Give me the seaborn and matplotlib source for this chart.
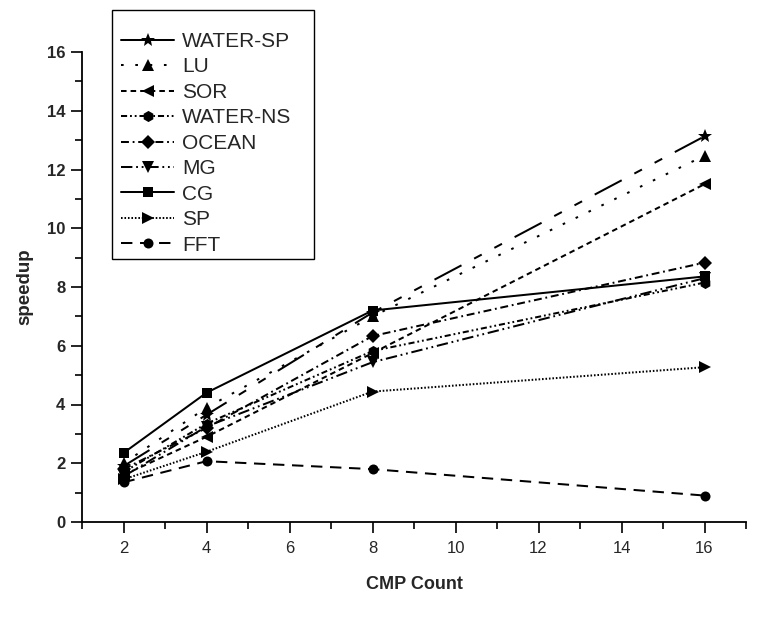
import matplotlib
matplotlib.use("Agg")
import matplotlib.pyplot as plt
from matplotlib.lines import Line2D
from matplotlib.patches import Rectangle
import seaborn as sns
import pandas as pd
import numpy as np

# ---- data ----
cmp_count = [2, 4, 8, 16]
benchmarks = ["WATER-SP", "LU", "SOR", "WATER-NS", "OCEAN", "MG", "CG", "SP", "FFT"]
water_sp = [1.90, 3.65, 7.13, 13.13]
lu = [2.00, 3.89, 7.00, 12.47]
sor = [1.60, 2.90, 5.75, 11.50]
water_ns = [1.70, 3.35, 5.82, 8.15]
ocean = [1.80, 3.20, 6.33, 8.83]
mg = [1.55, 3.25, 5.44, 8.30]
cg = [2.35, 4.40, 7.20, 8.36]
sp = [1.45, 2.39, 4.44, 5.27]
fft = [1.35, 2.07, 1.80, 0.90]
series = [water_sp, lu, sor, water_ns, ocean, mg, cg, sp, fft]
x_ticks = [2, 4, 6, 8, 10, 12, 14, 16]
y_ticks = [0, 2, 4, 6, 8, 10, 12, 14, 16]

# ---- styles ----
markers = {"WATER-SP": "*", "LU": "^", "SOR": "<", "WATER-NS": "h", "OCEAN": "D",
           "MG": "v", "CG": "s", "SP": ">", "FFT": "o"}
msizes = {"WATER-SP": 10.5, "LU": 8, "SOR": 8, "WATER-NS": 8, "OCEAN": 6.8,
          "MG": 8, "CG": 6.8, "SP": 8, "FFT": 7.2}
dashes = {"WATER-SP": (22, 10.3, 6.2, 10.3, 6.2, 10.3),
          "LU": (1.9, 8.4),
          "SOR": (4.0, 2.9),
          "WATER-NS": (4.4, 2.1, 1.3, 2.1, 1.3, 2.1),
          "OCEAN": (5.7, 2.7, 1.3, 2.7),
          "MG": (8.2, 2.7, 1.3, 2.7, 1.3, 2.7),
          "CG": "",
          "SP": (1.15, 1.35),
          "FFT": (8.2, 5.5)}

sns.set_theme(style="ticks")
plt.rcParams["font.family"] = ["Liberation Sans", "DejaVu Sans"]
plt.rcParams["lines.scale_dashes"] = False

df = pd.DataFrame({
    "cmp": np.tile(cmp_count, len(benchmarks)),
    "speedup": np.concatenate(series),
    "bench": np.repeat(benchmarks, len(cmp_count)),
})

W, H = 767, 620
fig = plt.figure(figsize=(W / 100, H / 100), dpi=100)
ax = fig.add_axes([82 / W, 98 / H, 664 / W, 470 / H])

for name in benchmarks:
    sub = df[df["bench"] == name]
    sns.lineplot(data=sub, x="cmp", y="speedup", ax=ax, color="black",
                 linewidth=1.45, marker=markers[name], markersize=msizes[name],
                 markeredgewidth=0, markerfacecolor="black", legend=False,
                 dashes=False, estimator=None, sort=False)
    line = ax.lines[-1]
    if dashes[name] == "":
        line.set_linestyle("-")
    else:
        line.set_dashes(dashes[name])

ax.set_xlim(1, 17)
ax.set_ylim(0, 16)
ax.set_xticks(x_ticks)
ax.set_yticks(y_ticks)
ax.set_xticks(range(1, 18, 2), minor=True)
ax.set_yticks(range(1, 16, 2), minor=True)
ax.tick_params(axis="both", which="major", direction="out", length=8, width=1.2,
               color="black")
ax.tick_params(axis="both", which="minor", direction="out", length=5, width=1.2,
               color="black")
ax.tick_params(axis="y", pad=4)
ax.tick_params(axis="x", pad=6)
for lab in ax.get_yticklabels():
    lab.set_fontweight("bold")
    lab.set_fontsize(12)
for lab in ax.get_xticklabels():
    lab.set_fontsize(12)
    lab.set_family(["Liberation Sans Narrow", "Liberation Sans", "DejaVu Sans"])
ax.spines["top"].set_visible(False)
ax.spines["right"].set_visible(False)
for s in ("left", "bottom"):
    ax.spines[s].set_linewidth(1.3)
    ax.spines[s].set_color("black")

ax.set_xlabel("CMP Count", fontsize=13, fontweight="bold", labelpad=14)
ax.set_ylabel("speedup", fontsize=13.5, fontweight="bold", labelpad=10)

handles = []
for name in benchmarks:
    ls = "-" if name in ("WATER-SP", "CG") else (0, dashes[name])
    handles.append(Line2D([0], [0], color="black", linewidth=1.45, linestyle=ls,
                          marker=markers[name], markersize=msizes[name],
                          markeredgewidth=0, markerfacecolor="black"))
leg = fig.legend(handles, benchmarks, loc="upper left",
                 bbox_to_anchor=(121 / W, 1 - 32 / H), borderaxespad=0,
                 frameon=False, fontsize=15,
                 handlelength=2.56, handletextpad=0.38, labelspacing=0.31,
                 borderpad=0, numpoints=1)

# legend box (drawn separately: larger margin above the first entry)
box_l, box_t, box_r, box_b = 112, 10, 314, 259
fig.patches.append(Rectangle((box_l / W, 1 - box_b / H), (box_r - box_l) / W,
                             (box_b - box_t) / H, transform=fig.transFigure,
                             fill=False, edgecolor="black", linewidth=1.0,
                             zorder=5))

fig.savefig("out.png", dpi=100)
